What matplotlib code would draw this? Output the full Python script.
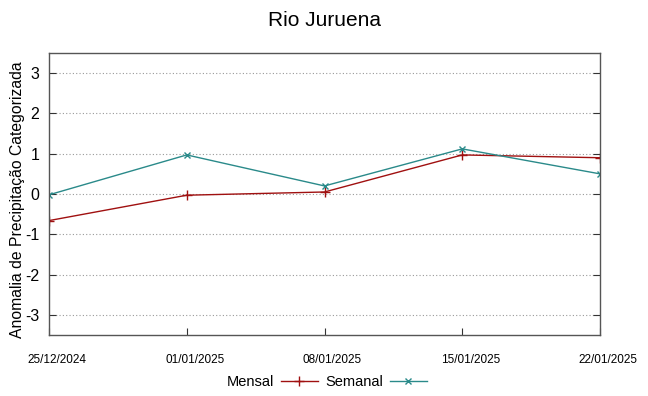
import matplotlib
matplotlib.use("Agg")
import matplotlib.pyplot as plt
import matplotlib.transforms as mtransforms
import datetime as dt

dates = ["25/12/2024", "01/01/2025", "08/01/2025", "15/01/2025", "22/01/2025"]
mensal = [-0.66, -0.03, 0.05, 0.97, 0.90]
semanal = [-0.02, 0.97, 0.20, 1.12, 0.50]
yticks = [-3, -2, -1, 0, 1, 2, 3]

x = [dt.datetime.strptime(d, "%d/%m/%Y") for d in dates]

plt.rcParams['font.family'] = ['Liberation Sans', 'DejaVu Sans']

fig = plt.figure(figsize=(6.48, 3.96), dpi=100)
ax = fig.add_axes([49/648, 61/396, 551/648, 282/396])

ax.plot(x, mensal, color='#a01010', lw=1.0, marker='+', ms=7, mew=1.0, label='Mensal')
ax.plot(x, semanal, color='#2a8a8a', lw=1.0, marker='x', ms=5, mew=1.0, label='Semanal')

ax.set_xlim(x[0], x[-1])
ax.set_ylim(-3.5, 3.5)
ax.set_yticks(yticks)
ax.set_yticklabels([str(v) for v in yticks], fontsize=11.5)
ax.set_xticks(x)
ax.set_xticklabels(dates, fontsize=8.5, family=['Liberation Sans Narrow', 'Liberation Sans'])
ax.yaxis.grid(True, linestyle=(0, (1, 2)), color='#999999', lw=0.8)
ax.tick_params(axis='both', direction='in', length=5, color='#333333', top=False, right=True)
ax.tick_params(axis='x', pad=14)
ax.tick_params(axis='y', pad=7)
for s in ax.spines.values():
    s.set_color('#555555')
    s.set_linewidth(1.0)

offset = mtransforms.ScaledTranslation(0.08, 0, fig.dpi_scale_trans)
for lbl in ax.get_xticklabels():
    lbl.set_transform(lbl.get_transform() + offset)

ax.set_ylabel('Anomalia de Precipitação Categorizada', fontsize=11.3, va='center')
ax.yaxis.set_label_coords((18 - 49) / 551, 0.479)
fig.text(0.5, 0.949, 'Rio Juruena', ha='center', va='center', fontsize=15)

fig.legend(loc='center', bbox_to_anchor=(0.504, 14/396), ncol=2, frameon=False,
           markerfirst=False, fontsize=10.5, handlelength=2.5, columnspacing=0.5, handletextpad=0.5)

fig.savefig('out.png', dpi=100)
